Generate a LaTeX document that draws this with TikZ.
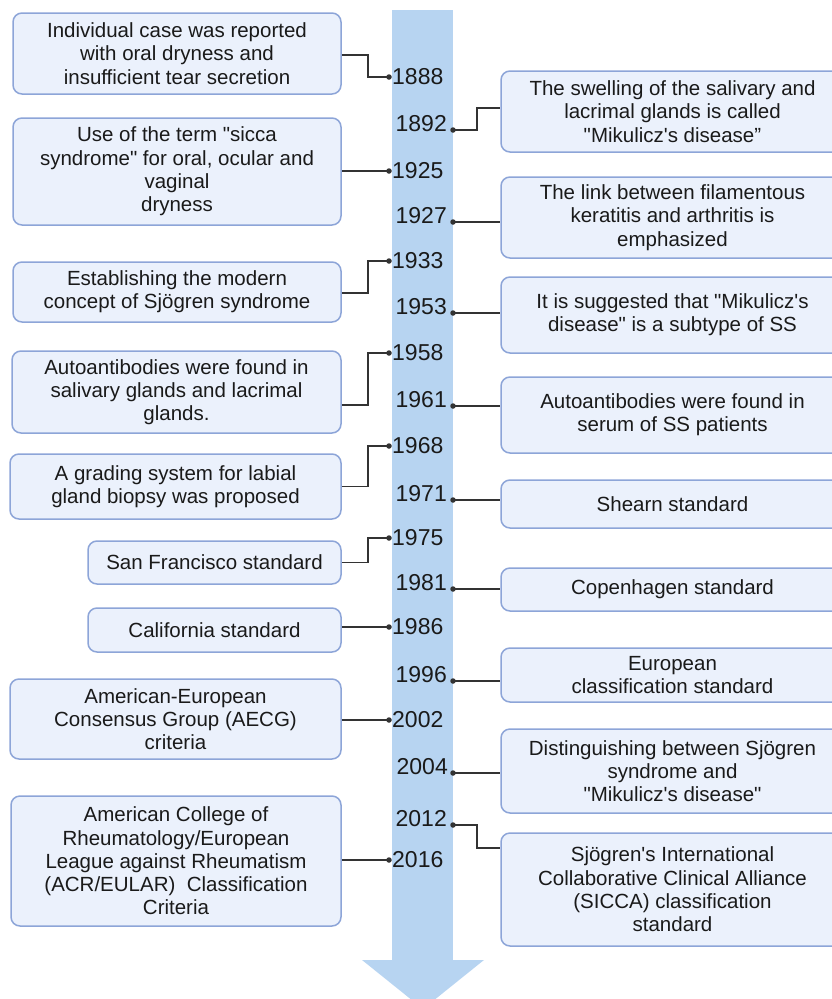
\documentclass[tikz,border=0pt]{standalone}
\usepackage{fontspec}
\setmainfont{Liberation Sans}[Ligatures=TeXOff]
\definecolor{barcol}{HTML}{B7D4F1}
\definecolor{boxfill}{HTML}{EBF1FC}
\definecolor{boxline}{HTML}{8DA5D8}
\definecolor{conncol}{HTML}{333333}
\definecolor{txt}{HTML}{1A1A1A}
\begin{document}
\begin{tikzpicture}[x=1pt,y=-1pt,
  box/.style={draw=boxline, fill=boxfill, line width=1.5pt, rounded corners=9pt,
    align=center, inner sep=0pt, font=\fontsize{20.5}{23.3}\selectfont, text=txt},
  dotn/.style={circle, fill=conncol, minimum size=5.5pt, inner sep=0pt},
  yearL/.style={anchor=west, inner sep=0pt, font=\fontsize{23}{25}\selectfont, text=txt},
  yearR/.style={anchor=base east, inner sep=0pt, font=\fontsize{23}{25}\selectfont, text=txt},
  conn/.style={draw=conncol, line width=1.6pt}]
\useasboundingbox (0,0) rectangle (831,999);
% timeline arrow
\fill[barcol] (392,10) rectangle (453,960.5);
\fill[barcol] (362,960) -- (484,960) -- (423,1009) -- cycle;

% left boxes
\node[box, minimum width=328pt, minimum height=81pt] (L1) at (177,53.5)
  {Individual case was reported\\with oral dryness and\\insufficient tear secretion};
\node[box, minimum width=328pt, minimum height=107pt] (L2) at (177,171.5)
  {Use of the term "sicca\\syndrome" for oral, ocular and\\vaginal\\dryness};
\node[box, minimum width=328pt, minimum height=60pt] (L3) at (177,292)
  {Establishing the modern\\concept of Sjögren syndrome};
\node[box, minimum width=329pt, minimum height=82pt] (L4) at (176.5,392)
  {Autoantibodies were found in\\salivary glands and lacrimal\\glands.};
\node[box, minimum width=331pt, minimum height=65pt] (L5) at (175.5,486.5)
  {A grading system for labial\\gland biopsy was proposed};
\node[box, minimum width=253pt, minimum height=43pt] (L6) at (214.5,562.5)
  {San Francisco standard};
\node[box, minimum width=253pt, minimum height=44pt] (L7) at (214.5,630)
  {California standard};
\node[box, minimum width=331pt, minimum height=80pt] (L8) at (175.5,719)
  {American-European\\Consensus Group (AECG)\\criteria};
\node[box, minimum width=330pt, minimum height=130pt] (L9) at (176,861)
  {American College of\\Rheumatology/European\\League against Rheumatism\\(ACR/EULAR)~ Classification\\Criteria};

% right boxes
\node[box, minimum width=343pt, minimum height=81pt] (R1) at (672.5,111.5)
  {The swelling of the salivary and\\lacrimal glands is called\\"Mikulicz's disease”};
\node[box, minimum width=343pt, minimum height=81pt] (R2) at (672.5,217.5)
  {The link between filamentous\\keratitis and arthritis is\\emphasized};
\node[box, minimum width=343pt, minimum height=76pt] (R3) at (672.5,315)
  {It is suggested that "Mikulicz's\\disease" is a subtype of SS};
\node[box, minimum width=343pt, minimum height=76pt] (R4) at (672.5,415)
  {Autoantibodies were found in\\serum of SS patients};
\node[box, minimum width=343pt, minimum height=48pt] (R5) at (672.5,504)
  {Shearn standard};
\node[box, minimum width=343pt, minimum height=43pt] (R6) at (672.5,589.5)
  {Copenhagen standard};
\node[box, minimum width=343pt, minimum height=54pt] (R7) at (672.5,675)
  {European\\classification standard};
\node[box, minimum width=343pt, minimum height=84pt] (R8) at (672.5,771)
  {Distinguishing between Sjögren\\syndrome and\\"Mikulicz's disease"};
\node[box, minimum width=343pt, minimum height=113pt] (R9) at (672.5,889.5)
  {Sjögren's International\\Collaborative Clinical Alliance\\(SICCA) classification\\standard};

% dots
\node[dotn] (d1888) at (389,77) {};
\node[dotn] (d1925) at (389,171) {};
\node[dotn] (d1933) at (389,261) {};
\node[dotn] (d1958) at (389,353) {};
\node[dotn] (d1968) at (389,446) {};
\node[dotn] (d1975) at (389,538) {};
\node[dotn] (d1986) at (389,627) {};
\node[dotn] (d2002) at (389,720) {};
\node[dotn] (d2016) at (389,860) {};
\node[dotn] (d1892) at (453,130) {};
\node[dotn] (d1927) at (453,222) {};
\node[dotn] (d1953) at (453,313) {};
\node[dotn] (d1961) at (453,406) {};
\node[dotn] (d1971) at (453,500) {};
\node[dotn] (d1981) at (453,589) {};
\node[dotn] (d1996) at (453,681) {};
\node[dotn] (d2004) at (453,773) {};
\node[dotn] (d2012) at (453,825) {};

% years
\node[yearL] (y1888) at (392,77) {1888};
\node[yearL] (y1925) at (392,171) {1925};
\node[yearL] (y1933) at (392,261) {1933};
\node[yearL] (y1958) at (392,353) {1958};
\node[yearL] (y1968) at (392,446) {1968};
\node[yearL] (y1975) at (392,538) {1975};
\node[yearL] (y1986) at (392,627) {1986};
\node[yearL] (y2002) at (392,720) {2002};
\node[yearL] (y2016) at (392,860) {2016};
\node[yearR] (y1892) at (447,131) {1892};
\node[yearR] (y1927) at (447,223) {1927};
\node[yearR] (y1953) at (447,314) {1953};
\node[yearR] (y1961) at (447,407) {1961};
\node[yearR] (y1971) at (447,501) {1971};
\node[yearR] (y1981) at (447,590) {1981};
\node[yearR] (y1996) at (447,682) {1996};
\node[yearR] (y2004) at (448,774) {2004};
\node[yearR] (y2012) at (447,826) {2012};

% left connectors
\draw[conn] ([yshift=-1.5pt]L1.east) -- ++(26,0) |- (d1888.center);
\draw[conn] (d1925.center) -- (d1925.center -| L2.east);
\draw[conn] ([yshift=-1pt]L3.east) -- ++(26,0) |- (d1933.center);
\draw[conn] ([yshift=-13pt]L4.east) -- ++(26,0) |- (d1958.center);
\draw[conn] (L5.east) -- ++(26,0) |- (d1968.center);
\draw[conn] (L6.east) -- ++(26,0) |- (d1975.center);
\draw[conn] (d1986.center) -- (d1986.center -| L7.east);
\draw[conn] (d2002.center) -- (d2002.center -| L8.east);
\draw[conn] (d2016.center) -- (d2016.center -| L9.east);

% right connectors
\draw[conn] (d1892.center) -- ++(24,0) |- ([yshift=3.5pt]R1.west);
\draw[conn] (d1927.center) -- (d1927.center -| R2.west);
\draw[conn] (d1953.center) -- (d1953.center -| R3.west);
\draw[conn] (d1961.center) -- (d1961.center -| R4.west);
\draw[conn] (d1971.center) -- (d1971.center -| R5.west);
\draw[conn] (d1981.center) -- (d1981.center -| R6.west);
\draw[conn] (d1996.center) -- (d1996.center -| R7.west);
\draw[conn] (d2004.center) -- (d2004.center -| R8.west);
\draw[conn] (d2012.center) -- ++(24,0) |- ([yshift=-16pt]R9.north west);
\end{tikzpicture}
\end{document}
